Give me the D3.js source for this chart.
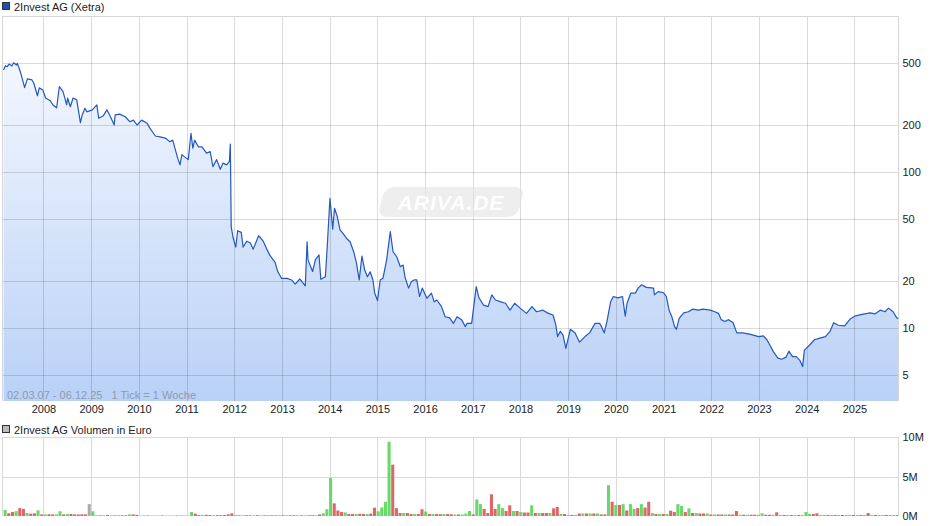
<!DOCTYPE html>
<html><head><meta charset="utf-8">
<script src="https://cdn.jsdelivr.net/npm/d3@7"></script>
<style>
body{margin:0;background:#fff}
svg{display:block;font-family:"Liberation Sans",Arial,sans-serif}
</style>
</head><body>
<svg id="c" width="940" height="526"></svg>
<script>
// ---- DATA ----
const startDate = new Date(2007, 2, 2);   // 02.03.07
const endDate   = new Date(2025, 11, 6);  // 06.12.25
// price readings: week number since start (1 Tick = 1 Woche) and price
const priceWeeks = [0,2,4,6,9,11,14,15,17,19,23,26,31,33,37,39,43,46,51,54,58,61,65,69,70,73,76,80,84,86,89,91,97,102,104,109,113,116,121,122,127,133,138,142,146,151,157,160,166,171,177,182,185,190,193,195,198,202,205,207,209,213,217,222,226,229,233,237,240,244,247,248,249,251,254,256,260,262,266,270,273,279,284,288,291,297,300,304,310,315,319,324,330,332,333,338,341,345,347,352,354,357,360,362,365,368,371,375,379,383,386,389,392,395,398,401,404,406,409,412,415,419,423,426,430,434,437,439,443,446,449,452,455,458,463,468,471,474,479,483,488,492,496,501,505,507,512,517,520,525,530,534,538,544,549,554,559,565,572,578,583,590,596,601,604,606,609,612,615,620,625,630,636,641,647,652,654,657,660,664,667,672,677,680,682,686,691,694,698,703,711,712,716,722,725,728,731,734,736,739,744,749,754,760,765,773,778,782,785,789,793,798,802,809,817,826,831,835,838,842,847,851,856,859,863,867,871,874,876,882,887,893,899,904,908,913,920,926,931,939,948,953,959,964,968,973,977,979];
const priceValues = [450,480,473,492,478,502,485,497,462,425,347,395,389,372,308,346,335,298,286,269,258,352,327,269,298,262,298,290,207,232,256,243,250,269,221,229,250,232,200,232,235,226,210,215,200,215,205,191,170,168,165,156,160,125,111,129,125,120,177,142,160,145,145,132,135,108,120,104,114,111,117,151,44.5,38,33,42,41,33,36,35,32,39,36,32,29.4,26.3,22.9,20.8,20.8,20.3,19.1,20.6,18.6,35.7,27.3,23,27.3,29.4,20.5,21.3,33,67.8,43,58.5,51.7,42.5,40.5,37.6,35.7,30.8,26,20.3,28.9,23.5,21.3,22.9,20.3,16.7,15,20.3,20.8,27.3,41.4,30.8,28.6,24.7,25.3,21.3,18,19.8,20.3,20.3,15.9,18,15.5,16.7,14.7,15.1,13.7,11.8,11.6,10.7,11.8,11.3,10.2,10.7,10.7,18.4,15.6,14,13.7,16.3,15.1,14.7,14.4,13,14.4,13.4,12.4,13.7,12.7,13,12.4,12.1,10.5,8.8,9.5,9,7.4,9.8,9.3,8.1,8.8,9.3,10.7,10.7,10.2,9.3,11,14.7,15.9,15.6,15.9,11.9,14.4,16.7,16.7,18,18.9,18.2,18,16.3,17.1,16.8,15.9,13,11.8,10.2,9.8,11.5,12.5,12.7,13.2,13,13.2,13,12.7,12.4,11.3,11,11.3,10.8,9.3,9.3,9.1,8.8,8.9,8.4,7.8,7.05,6.4,6.3,6.5,7.1,6.55,6.55,6.2,5.65,7.2,7.8,8.4,8.6,8.8,9.5,10.8,10.4,10.3,11.4,11.9,12.2,12.5,12.3,13,12.7,13.4,12.7,11.6,11.5];
// volume in million Euro per 4-week period (from start), G = up, R = down, X = unchanged
const volValues = [0.76,0.35,0.5,0.6,1.0,0.9,0.38,0.3,0.34,0.72,
0.2,0.2,0.22,0.2,0.2,0.6,0.2,0.25,0.25,0.2,
0.2,0.22,0.2,1.5,0.6,0.09,0.09,0.1,0.12,0.09,
0.09,0.1,0.09,0.12,0.2,0.2,0.15,0.06,0.06,0.1,
0.06,0.05,0.06,0.07,0.06,0.05,0.06,0.07,0.08,0.06,
0.06,0.5,0.3,0.12,0.12,0.15,0.12,0.1,0.12,0.12,
0.12,0.2,0.34,0.12,0.09,0.09,0.1,0.09,0.09,0.1,
0.09,0.09,0.1,0.09,0.09,0.09,0.1,0.09,0.09,0.09,
0.1,0.09,0.09,0.09,0.1,0.09,0.2,0.34,0.85,4.8,
1.6,0.7,0.5,0.45,0.25,0.25,0.25,0.28,0.25,0.25,
0.3,1.05,0.6,1.08,1.8,9.4,6.5,1.0,0.38,0.38,
0.38,0.25,0.25,0.25,0.85,0.57,0.25,0.25,0.25,0.22,
0.25,0.25,0.22,0.19,0.19,0.19,0.3,0.63,0.2,2.1,
1.5,0.9,0.38,2.75,0.9,1.5,1.0,0.63,1.35,0.63,
0.63,0.5,0.44,0.44,1.35,0.38,0.38,0.38,0.38,0.38,
0.97,1.14,0.25,0.25,0.13,0.13,0.13,0.32,0.32,0.32,
0.32,0.32,0.32,0.2,0.2,3.9,1.8,1.4,1.4,1.5,
0.7,1.5,0.9,1.0,1.5,1.07,1.8,0.38,0.25,0.25,
0.25,0.25,0.67,0.5,1.5,1.27,0.5,0.97,0.38,0.38,
0.32,0.32,0.32,0.19,0.19,0.19,0.19,0.19,0.19,0.19,
0.63,0.16,0.16,0.16,0.16,0.16,0.16,0.34,0.16,0.16,
0.16,0.47,0.13,0.13,0.13,0.13,0.13,0.13,0.13,0.5,
0.25,0.25,0.34,0.13,0.13,0.13,0.13,0.13,0.13,0.13,
0.13,0.13,0.13,0.13,0.13,0.13,0.38,0.13,0.13,0.13,
0.13,0.13,0.13,0.13,0.13];
const volColors = "GRRGRRGRRG"+"RGRRGGRGRR"+"RRRXGGRGRG"+"RGRGGRRGRG"+"GRGRGRGRGR"+"GGRRGRRGRR"+"RRRGRGRRGR"+"GRGRRGRGRR"+"GRGRRGRGGG"+"RRRGRRGRRG"+"RRGGGGRRRG"+"RRGRRGRGRR"+"GRRGRGGGRG"+"GRRRRGGRRG"+"RGRRGRGRRG"+"RRGRGRGRGR"+"GRGRRGRGRG"+"RGGRGRRGRG"+"RGRRGGRGRG"+"RRGRGRRGRR"+"RGRGRRGGRR"+"GRGRGRGRGG"+"GRRGGRGRGR"+"GGRGRGRGRG"+"GRGGR";
const yearTicks = [2008,2009,2010,2011,2012,2013,2014,2015,2016,2017,2018,2019,2020,2021,2022,2023,2024,2025];
const priceTicks = [5,10,20,50,100,200,500];
const volTicks = [0,5,10];
const volTickLabels = ["0M","5M","10M"];
const legendMain = "2Invest AG (Xetra)";
const legendVol = "2Invest AG Volumen in Euro";
const rangeNote = "02.03.07 - 06.12.25   1 Tick = 1 Woche";

// ---- CHART ----
const svg = d3.select("#c");
const L = 2.5, R = 898.5, T = 16, B = 401, VT = 437, VB = 516;
const x = d3.scaleTime().domain([startDate, endDate]).range([3.6, 898.7]);
const y = d3.scaleLog().domain([3.4, 1000]).range([B, T]);
const yv = d3.scaleLinear().domain([0, 10]).range([VB, VT]);
const yearDates = yearTicks.map(t => new Date(t, 0, 1));
const data = priceWeeks.map((w, i) => ({d: d3.timeDay.offset(startDate, w * 7), v: priceValues[i]}));

const defs = svg.append("defs");
const g = defs.append("linearGradient").attr("id","fillg").attr("gradientUnits","userSpaceOnUse")
  .attr("x1",0).attr("y1",T).attr("x2",0).attr("y2",B);
g.append("stop").attr("offset",0).attr("stop-color","#fbfcff");
g.append("stop").attr("offset",1).attr("stop-color","#b9d1f7");
defs.append("clipPath").attr("id","clipMain").append("rect").attr("x",L).attr("y",T).attr("width",R-L).attr("height",B-T);

// area
svg.append("path").datum(data).attr("clip-path","url(#clipMain)")
  .attr("fill","url(#fillg)")
  .attr("d", d3.area().x(d=>x(d.d)).y0(B).y1(d=>y(d.v)));

// grid main
const grid = svg.append("g").attr("stroke","#000").attr("stroke-opacity",0.14).attr("shape-rendering","crispEdges");
grid.selectAll(".h").data(priceTicks).join("line")
  .attr("x1",L).attr("x2",R).attr("y1",d=>Math.round(y(d))+0.5).attr("y2",d=>Math.round(y(d))+0.5);
grid.selectAll(".v").data(yearDates).join("line")
  .attr("x1",d=>Math.round(x(d))+0.5).attr("x2",d=>Math.round(x(d))+0.5).attr("y1",T).attr("y2",B);
// frame
const frame = svg.append("g").attr("fill","none").attr("stroke","#d6d6d6").attr("shape-rendering","crispEdges");
frame.append("path").attr("d",`M${L},${B}V${T}H${R}V${B}`);

// watermark
const wm = svg.append("g");
wm.append("rect").attr("x",381).attr("y",187).attr("width",140).attr("height",30).attr("rx",9)
  .attr("transform","translate(451,202) skewX(-14) translate(-451,-202)")
  .attr("fill","#e2e2e2").attr("opacity",0.6);
wm.append("text").attr("x",451).attr("y",210).attr("text-anchor","middle")
  .attr("font-size",21).attr("font-weight","bold").attr("font-style","italic").attr("letter-spacing",1)
  .attr("fill","#fff").attr("opacity",0.95).text("ARIVA.DE");

// line
svg.append("path").datum(data).attr("clip-path","url(#clipMain)")
  .attr("fill","none").attr("stroke","#2358c0").attr("stroke-width",1.2).attr("stroke-linejoin","round")
  .attr("d", d3.line().x(d=>x(d.d)).y(d=>y(d.v)));

// axes main
const ax = svg.append("g").attr("transform",`translate(0,${B})`)
  .call(d3.axisBottom(x).tickValues(yearDates).tickFormat(d3.timeFormat("%Y")).tickSize(0).tickPadding(4));
ax.select(".domain").remove();
ax.selectAll("text").attr("font-size",11).attr("font-family","Liberation Sans, Arial, sans-serif").attr("fill","#222");
const ay = svg.append("g").attr("transform",`translate(${R},0)`)
  .call(d3.axisRight(y).tickValues(priceTicks).tickFormat(d3.format("d")).tickSize(0).tickPadding(4));
ay.select(".domain").remove();
ay.selectAll("text").attr("font-size",11).attr("font-family","Liberation Sans, Arial, sans-serif").attr("fill","#222");

// note
svg.append("text").attr("x",7).attr("y",398.5).attr("font-size",11).attr("fill","#8e9bb0")
  .style("white-space","pre").text(rangeNote);

// legends
svg.append("rect").attr("x",2.5).attr("y",2.5).attr("width",7).attr("height",7).attr("fill","#1f4fb0").attr("stroke","#333").attr("stroke-width",1);
svg.append("text").attr("x",14).attr("y",11).attr("font-size",11).attr("fill","#222").text(legendMain);
svg.append("rect").attr("x",2.5).attr("y",425.5).attr("width",7).attr("height",7).attr("fill","#bbb").attr("stroke","#333").attr("stroke-width",1);
svg.append("text").attr("x",14).attr("y",434).attr("font-size",11).attr("fill","#222").text(legendVol);

// volume grid
const vg = svg.append("g").attr("stroke","#d9d9d9").attr("shape-rendering","crispEdges");
vg.selectAll(".h").data(volTicks.filter(d=>d>0)).join("line")
  .attr("x1",L).attr("x2",R).attr("y1",d=>Math.round(yv(d))+0.5).attr("y2",d=>Math.round(yv(d))+0.5);
vg.selectAll(".v").data(yearDates).join("line")
  .attr("x1",d=>Math.round(x(d))+0.5).attr("x2",d=>Math.round(x(d))+0.5).attr("y1",VT).attr("y2",VB);
vg.append("line").attr("x1",L).attr("x2",L).attr("y1",VT).attr("y2",VB);
vg.append("line").attr("x1",R).attr("x2",R).attr("y1",VT).attr("y2",VB);

// volume bars
const colMap = {G:"#66d966", R:"#dd6666", X:"#aaaaaa"};
const vdata = volValues.map((v,i)=>({d0: d3.timeDay.offset(startDate, i*28), d1: d3.timeDay.offset(startDate, (i+1)*28), v, c: volColors[i]}));
svg.append("g").selectAll("rect").data(vdata).join("rect")
  .attr("x", d=>x(d.d0)).attr("width", d=>Math.max(0.8, Math.min(x(d.d1), R) - x(d.d0) - 0.6))
  .attr("y", d=>yv(d.v)).attr("height", d=>VB - yv(d.v))
  .attr("fill", d=>colMap[d.c]);

const av = svg.append("g").attr("transform",`translate(${R},0)`)
  .call(d3.axisRight(yv).tickValues(volTicks).tickFormat((d,i)=>volTickLabels[i]).tickSize(0).tickPadding(4));
av.select(".domain").remove();
av.selectAll("text").attr("font-size",11).attr("font-family","Liberation Sans, Arial, sans-serif").attr("fill","#222");
</script>
</body></html>
